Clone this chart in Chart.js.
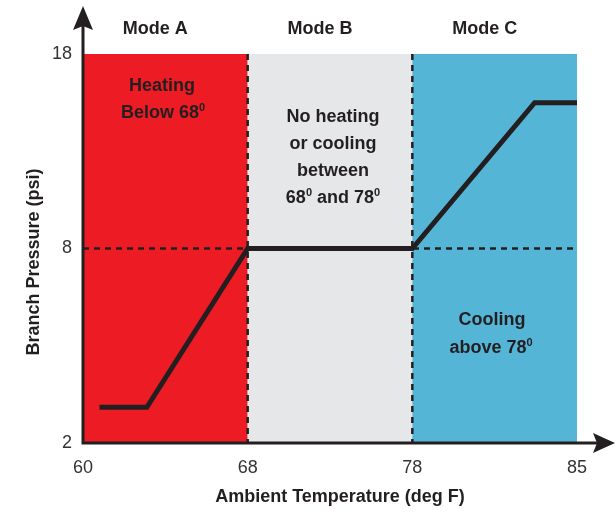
<!DOCTYPE html>
<html>
<head>
<meta charset="utf-8">
<script src="https://cdn.jsdelivr.net/npm/chart.js@4"></script>
<style>
  body { margin: 0; background: #fff; }
  #wrap { width: 616px; height: 512px; }
</style>
</head>
<body>
<div id="wrap"><canvas id="modeChart"></canvas></div>
<script>
// ejes con marcas equiespaciadas (no lineales)
const xTicks = [60, 68, 78, 85];
const yTicks = [2, 8, 18];

// curva de presion de rama
const temps = [60.8, 63.1, 68, 78, 83.2, 85];
const pressures = [3.1, 3.1, 8, 8, 15.5, 15.5];

// zonas de modo
const modeNames = ["Mode A", "Mode B", "Mode C"];
const modeBounds = [60, 68, 78, 85];
const modeColors = ["#ed1c24", "#e6e7e8", "#55b5d7"];
const modeTexts = [
    [["Heating", ""], ["Below 68", "0"]],
    [["No heating", ""], ["or cooling", ""], ["between", ""], ["68", "0", " and 78", "0"]],
    [["Cooling", ""], ["above 78", "0"]]
];
const setPoint = 8;

const ink = "#231f20";
const bold = "bold 18px 'Liberation Sans', Arial, sans-serif";
const supFont = "bold 11px 'Liberation Sans', Arial, sans-serif";

// valor real -> posicion en la escala de marcas
function toAxis(v, ticks) {
    for (let i = 0; i < ticks.length - 1; i++) {
        if (v <= ticks[i + 1]) return i + (v - ticks[i]) / (ticks[i + 1] - ticks[i]);
    }
    return ticks.length - 1;
}

// texto con superindices: pares [texto, sup, texto, sup...]
function drawSupText(ctx, parts, cx, cy) {
    let widths = parts.map((p, i) => {
        ctx.font = i % 2 ? supFont : bold;
        return ctx.measureText(p).width;
    });
    let x = cx - widths.reduce((a, b) => a + b, 0) / 2;
    ctx.textAlign = "left";
    parts.forEach((p, i) => {
        if (i % 2) {
            ctx.font = supFont;
            ctx.textBaseline = "alphabetic";
            ctx.fillText(p, x, cy - 2);
        } else {
            ctx.font = bold;
            ctx.textBaseline = "middle";
            ctx.fillText(p, x, cy);
        }
        x += widths[i];
    });
}

const zonesPlugin = {
    id: "zones",
    beforeDatasetsDraw(chart) {
        const ctx = chart.ctx;
        const xs = chart.scales.x, ys = chart.scales.y;
        const area = chart.chartArea;
        ctx.save();
        // fondos
        for (let i = 0; i < modeNames.length; i++) {
            const x0 = xs.getPixelForValue(toAxis(modeBounds[i], xTicks));
            const x1 = xs.getPixelForValue(toAxis(modeBounds[i + 1], xTicks));
            ctx.fillStyle = modeColors[i];
            ctx.fillRect(x0, area.top, x1 - x0, area.bottom - area.top);
            ctx.fillStyle = ink;
            ctx.font = bold;
            ctx.textAlign = "center";
            ctx.textBaseline = "middle";
            ctx.fillText(modeNames[i], (x0 + x1) / 2 - 10, 29);
        }
        // textos de zona
        ctx.fillStyle = ink;
        drawSupText(ctx, modeTexts[0][0], 162, 86);
        drawSupText(ctx, modeTexts[0][1], 163, 113);
        modeTexts[1].forEach((l, k) => drawSupText(ctx, l, 333, 117 + k * 27));
        drawSupText(ctx, modeTexts[2][0], 492, 320);
        drawSupText(ctx, modeTexts[2][1], 491, 348);
        // lineas discontinuas
        ctx.strokeStyle = ink;
        ctx.lineWidth = 2.5;
        ctx.setLineDash([6, 5]);
        const y8 = ys.getPixelForValue(toAxis(setPoint, yTicks));
        ctx.beginPath();
        ctx.moveTo(area.left, y8);
        ctx.lineTo(area.right, y8);
        for (let i = 1; i < modeBounds.length - 1; i++) {
            const x = xs.getPixelForValue(toAxis(modeBounds[i], xTicks));
            ctx.moveTo(x, area.top);
            ctx.lineTo(x, area.bottom);
        }
        ctx.stroke();
        ctx.restore();
    },
    afterDatasetsDraw(chart) {
        const ctx = chart.ctx;
        const area = chart.chartArea;
        ctx.save();
        ctx.strokeStyle = ink;
        ctx.fillStyle = ink;
        ctx.lineWidth = 3;
        ctx.beginPath();
        ctx.moveTo(area.left, 24);
        ctx.lineTo(area.left, area.bottom);
        ctx.lineTo(602, area.bottom);
        ctx.stroke();
        // flechas
        ctx.beginPath();
        ctx.moveTo(area.left, 6);
        ctx.lineTo(area.left - 10, 30);
        ctx.lineTo(area.left, 26);
        ctx.lineTo(area.left + 10, 30);
        ctx.closePath();
        ctx.fill();
        ctx.beginPath();
        ctx.moveTo(615, area.bottom);
        ctx.lineTo(593, area.bottom - 10);
        ctx.lineTo(597, area.bottom);
        ctx.lineTo(593, area.bottom + 10);
        ctx.closePath();
        ctx.fill();
        // titulos de ejes
        ctx.font = bold;
        ctx.textAlign = "center";
        ctx.textBaseline = "middle";
        ctx.fillText("Ambient Temperature (deg F)", 340, 497);
        ctx.translate(34, 262);
        ctx.rotate(-Math.PI / 2);
        ctx.fillText("Branch Pressure (psi)", 0, 0);
        ctx.restore();
    }
};

document.addEventListener("DOMContentLoaded", function () {
    const ctx = document.getElementById("modeChart").getContext("2d");
    new Chart(ctx, {
        type: "line",
        data: {
            datasets: [{
                data: temps.map((t, i) => ({ x: toAxis(t, xTicks), y: toAxis(pressures[i], yTicks) })),
                borderColor: ink,
                borderWidth: 5,
                borderJoinStyle: "miter",
                tension: 0,
                pointRadius: 0,
                fill: false
            }]
        },
        options: {
            responsive: true,
            maintainAspectRatio: false,
            animation: false,
            layout: { padding: { top: 54, right: 39, left: 0, bottom: 0 } },
            plugins: { legend: { display: false }, tooltip: { enabled: false } },
            scales: {
                x: {
                    type: "linear",
                    min: 0,
                    max: xTicks.length - 1,
                    afterFit: s => { s.height = 69; },
                    grid: { display: false, drawTicks: false },
                    border: { display: false },
                    ticks: {
                        stepSize: 1,
                        padding: 14,
                        color: "#333",
                        font: { family: "'Liberation Sans', Arial, sans-serif", size: 18 },
                        callback: v => xTicks[v]
                    }
                },
                y: {
                    type: "linear",
                    min: 0,
                    max: yTicks.length - 1,
                    afterFit: s => { s.width = 83; },
                    grid: { display: false, drawTicks: false },
                    border: { display: false },
                    ticks: {
                        stepSize: 1,
                        padding: 11,
                        color: "#333",
                        font: { family: "'Liberation Sans', Arial, sans-serif", size: 18 },
                        callback: v => yTicks[v]
                    }
                }
            }
        },
        plugins: [zonesPlugin]
    });
});
</script>
</body>
</html>
